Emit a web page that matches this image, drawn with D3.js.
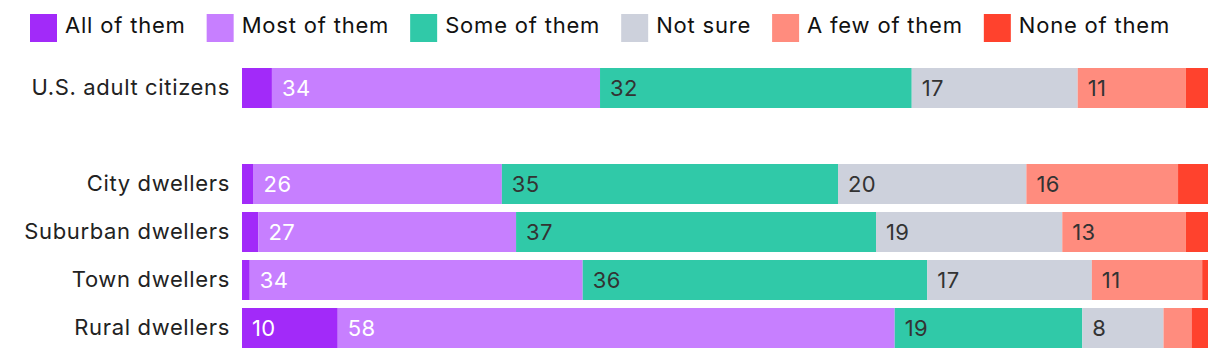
<!DOCTYPE html>
<html>
<head>
<meta charset="utf-8">
<script src="https://cdn.jsdelivr.net/npm/d3@7"></script>
<style>
  body { margin: 0; background: #fff; }
  svg { display: block; font-family: Inter, Roboto, sans-serif; }
</style>
</head>
<body>
<div class="container"></div>
<script>
// DATA
const groups = ["U.S. adult citizens", "City dwellers", "Suburban dwellers", "Town dwellers", "Rural dwellers"];
const answers = ["All of them", "Most of them", "Some of them", "Not sure", "A few of them", "None of them"];
const allOfThem = [3.1, 1.2, 1.7, 0.8, 9.9];
const mostOfThem = [34, 25.7, 26.7, 34.4, 57.6];
const someOfThem = [32.3, 34.8, 37.3, 35.6, 19.4];
const notSure = [17.2, 19.5, 19.3, 17, 8.4];
const fewOfThem = [11.2, 15.7, 12.8, 11.4, 2.9];
const noneOfThem = [2.3, 3.1, 2.3, 0.6, 1.7];

const colors = ["#a22af9", "#c77fff", "#30c9a8", "#cdd1dc", "#ff8c7e", "#ff422d"];
const labelColors = ["#fff", "#fff", "#333", "#333", "#333", "#333"];

const width = 1220, height = 360;
const margin = { top: 68, right: 12, bottom: 12, left: 242 };

// rows, with an empty slot after the first one
const rows = groups.map((g, i) => {
    const row = { group: g };
    row[answers[0]] = allOfThem[i];
    row[answers[1]] = mostOfThem[i];
    row[answers[2]] = someOfThem[i];
    row[answers[3]] = notSure[i];
    row[answers[4]] = fewOfThem[i];
    row[answers[5]] = noneOfThem[i];
    return row;
});
const yDomain = [groups[0], "spacer", ...groups.slice(1)];

const svg = d3.select(".container")
    .append("svg")
    .attr("width", width)
    .attr("height", height);

// SCALES
const x = d3.scaleLinear()
    .domain([0, 1])
    .range([margin.left, width - margin.right]);

const y = d3.scaleBand()
    .domain(yDomain)
    .range([margin.top, 348])
    .paddingInner(1 / 6)
    .paddingOuter(0);

const color = d3.scaleOrdinal().domain(answers).range(colors);

const stacked = d3.stack()
    .keys(answers)
    .offset(d3.stackOffsetExpand)(rows);

// BARS
const layers = svg.append("g")
    .selectAll("g")
    .data(stacked)
    .join("g")
    .attr("fill", d => color(d.key));

layers.selectAll("rect")
    .data(d => d)
    .join("rect")
    .attr("x", d => x(d[0]))
    .attr("y", d => y(d.data.group))
    .attr("width", d => x(d[1]) - x(d[0]))
    .attr("height", y.bandwidth());

// VALUE LABELS (only for wide enough segments)
stacked.forEach((layer, k) => {
    svg.append("g")
        .selectAll("text")
        .data(layer.filter(d => d.data[layer.key] >= 5))
        .join("text")
        .attr("x", d => x(d[0]) + 10)
        .attr("y", d => y(d.data.group) + y.bandwidth() / 2)
        .attr("dy", "0.36em")
        .attr("fill", labelColors[k])
        .style("font-size", "22px")
        .style("letter-spacing", "0.4px")
        .text(d => Math.round(d.data[layer.key]));
});

// CATEGORY AXIS
const yAxis = d3.axisLeft(y)
    .tickSize(0)
    .tickPadding(12)
    .tickFormat(d => d === "spacer" ? "" : d);

svg.append("g")
    .attr("transform", `translate(${margin.left}, 0)`)
    .call(yAxis)
    .call(g => g.select(".domain").remove())
    .selectAll("text")
    .attr("fill", "#222")
    .style("font-size", "22px")
    .style("letter-spacing", "0.65px")
    .style("font-family", "Inter, Roboto, sans-serif");

// LEGEND
const legend = svg.append("g");
let lx = 30;
answers.forEach((a, i) => {
    legend.append("rect")
        .attr("x", lx)
        .attr("y", 14)
        .attr("width", 27)
        .attr("height", 28)
        .attr("fill", color(a));
    const t = legend.append("text")
        .attr("x", lx + 35)
        .attr("y", 25)
        .attr("dy", "0.36em")
        .attr("fill", "#111")
        .style("font-size", "22px")
        .style("letter-spacing", "0.8px")
        .text(a);
    lx += 35 + t.node().getComputedTextLength() + 21;
});
</script>
</body>
</html>
